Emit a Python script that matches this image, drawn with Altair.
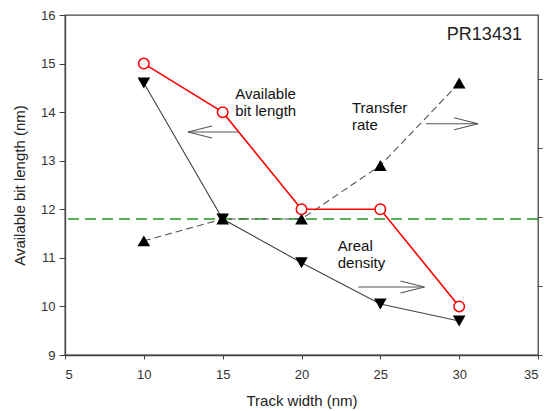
import altair as alt
import pandas as pd

# ---- data ----
track_width = [10, 15, 20, 25, 30]
bit_length = [15.0, 14.0, 12.0, 12.0, 10.0]
areal_density = [14.6, 11.8, 10.9, 10.05, 9.7]
transfer_rate = [11.35, 11.8, 11.8, 12.9, 14.6]
ref_level = [11.8]

x_ticks = [5, 10, 15, 20, 25, 30, 35]
y_ticks = [9, 10, 11, 12, 13, 14, 15, 16]
right_ticks = [0, 1, 2, 3, 4]
right_domain = [0, 4.93]

# annotations (data coordinates)
labels = ["Available\nbit length", "Transfer\nrate", "Areal\ndensity"]
label_x = [15.8, 23.2, 22.3]
label_y = [14.52, 14.22, 11.38]

arrow_x1 = [16.0, 27.9, 23.6]
arrow_x2 = [12.8, 31.2, 27.8]
arrow_y = [13.59, 13.76, 10.4]
arrow_angle = [180, 0, 0]

tag = ["PR13431"]

W, H = 473, 340
FONT = "Liberation Sans"

xs = alt.Scale(domain=[5, 35], nice=False, zero=False)
ys = alt.Scale(domain=[9, 16], nice=False, zero=False)

XT = "Track width (nm)"
YT = "Available bit length (nm)"

xax = alt.Axis(values=x_ticks, tickSize=4, tickColor="#444", labelPadding=9,
               labelFontSize=13, labelColor="#333", domainColor="#444",
               domainWidth=1.3, grid=False, titleFontSize=15,
               titleFontWeight="normal", titleColor="#222", titlePadding=12,
               labelFont=FONT, titleFont=FONT)
yax = alt.Axis(values=y_ticks, tickSize=6, tickColor="#444", labelPadding=4,
               labelFontSize=13, labelColor="#333", domainColor="#444",
               domainWidth=1.3, grid=False, titleFontSize=15,
               titleFontWeight="normal", titleColor="#222", titlePadding=13,
               labelFont=FONT, titleFont=FONT)


def X(f):
    return alt.X(f, type="quantitative", scale=xs, axis=xax, title=XT)


def Y(f):
    return alt.Y(f, type="quantitative", scale=ys, axis=yax, title=YT)


df = pd.DataFrame({"tw": track_width, "bl": bit_length,
                   "ad": areal_density, "tr": transfer_rate})
base = alt.Chart(df)

ref_df = pd.DataFrame({"v": ref_level})
ref_line = alt.Chart(ref_df).mark_rule(
    color="#1e9a1e", strokeWidth=1.6, strokeDash=[11, 6]
).encode(y=Y("v"))

ad_line = base.mark_line(color="#444", strokeWidth=1.1).encode(x=X("tw"), y=Y("ad"))
tr_line = base.mark_line(color="#555", strokeWidth=1.1, strokeDash=[7, 4]).encode(
    x=X("tw"), y=Y("tr"))
bl_line = base.mark_line(color="#ff0000", strokeWidth=1.6).encode(x=X("tw"), y=Y("bl"))

ad_pts = base.mark_point(shape="triangle-down", filled=True, color="black",
                         size=160, opacity=1).encode(x=X("tw"), y=Y("ad"))
tr_pts = base.mark_point(shape="triangle-up", filled=True, color="black",
                         size=160, opacity=1).encode(x=X("tw"), y=Y("tr"))
bl_pts = base.mark_point(shape="circle", filled=True, fill="white",
                         stroke="#ff0000", strokeWidth=1.5, size=110,
                         opacity=1).encode(x=X("tw"), y=Y("bl"))

arr_df = pd.DataFrame({"x1": arrow_x1, "x2": arrow_x2, "y": arrow_y,
                       "ang": arrow_angle})
arr_shaft = alt.Chart(arr_df).mark_rule(color="#555", strokeWidth=1.1).encode(
    x=X("x1"), x2="x2:Q", y=Y("y"))
arr_head = alt.Chart(arr_df).mark_point(
    shape="M -2 -0.5 L 0 0 L -2 0.5", filled=False, color="#555",
    strokeWidth=1.1, size=576, opacity=1
).encode(x=X("x2"), y=Y("y"), angle=alt.Angle("ang:Q", scale=None))

lab_df = pd.DataFrame({"t": labels, "x": label_x, "y": label_y})
lab_text = alt.Chart(lab_df).mark_text(
    align="left", baseline="top", fontSize=15, font=FONT, color="#111",
    lineBreak="\n", lineHeight=17
).encode(x=X("x"), y=Y("y"), text="t:N")

tag_df = pd.DataFrame({"t": tag, "x": [33.98], "y": [15.77]})
tag_text = alt.Chart(tag_df).mark_text(
    align="right", baseline="top", fontSize=18, font=FONT, color="#222"
).encode(x=X("x"), y=Y("y"), text="t:N")

main = alt.layer(ref_line, ad_line, tr_line, bl_line,
                 ad_pts, tr_pts, bl_pts, arr_shaft, arr_head, lab_text, tag_text)

rt_df = pd.DataFrame({"r": right_ticks})
right_axis = alt.Chart(rt_df).mark_point(opacity=0).encode(
    y=alt.Y("r:Q", scale=alt.Scale(domain=right_domain, nice=False, zero=False),
            axis=alt.Axis(orient="right", values=right_ticks, labels=False,
                          tickSize=4, tickColor="#444", domain=False,
                          grid=False, title=None)))

chart = alt.layer(main, right_axis).resolve_scale(y="independent").properties(
    width=W, height=H,
    autosize=alt.AutoSizeParams(type="none"),
    padding={"left": 65, "top": 15, "right": 8, "bottom": 56},
    background="white",
).configure_view(stroke="#444", strokeWidth=1.3)

chart.save("out.html", embed_options={"renderer": "svg", "actions": False})
